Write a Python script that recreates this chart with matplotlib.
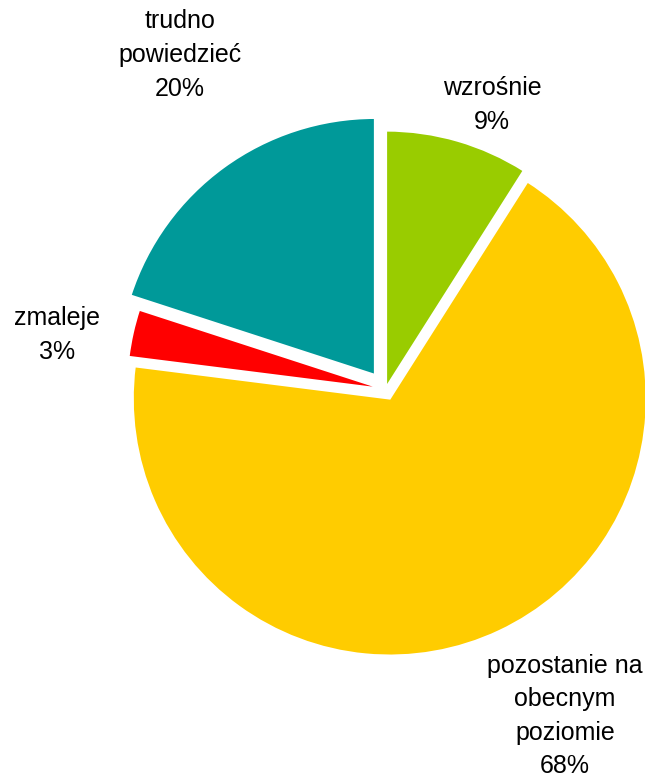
import matplotlib.pyplot as plt

# dane
categories = ["wzrośnie", "pozostanie na\nobecnym\npoziomie", "zmaleje", "trudno\npowiedzieć"]
values = [9, 68, 3, 20]
colors = ["#99CC00", "#FFCC00", "#FF0000", "#009999"]
explode = [2, 10, 2, 18]  # przesunięcie wycinków w pikselach

# położenie etykiet (piksele, y od góry)
label_pos = [(492, 105), (565, 716), (57, 335), (180, 55)]

W, H = 645, 774
fig = plt.figure(figsize=(W / 100, H / 100), dpi=100)
ax = fig.add_axes([0, 0, 1, 1])

cx, cy, r = 385.5, H - 389.5, 257
ax.pie(values, colors=colors, explode=explode, startangle=90, counterclock=False,
       center=(cx, cy), radius=r, wedgeprops=dict(edgecolor="white", linewidth=1.5))

for name, val, (x, y) in zip(categories, values, label_pos):
    ax.text(x, H - y, f"{name}\n{val}%", ha="center", va="center", fontsize=18,
            family="Liberation Sans", linespacing=1.5)

ax.set_xlim(0, W)
ax.set_ylim(0, H)
ax.set_aspect("equal")
ax.axis("off")

plt.savefig("out.png", dpi=100)
